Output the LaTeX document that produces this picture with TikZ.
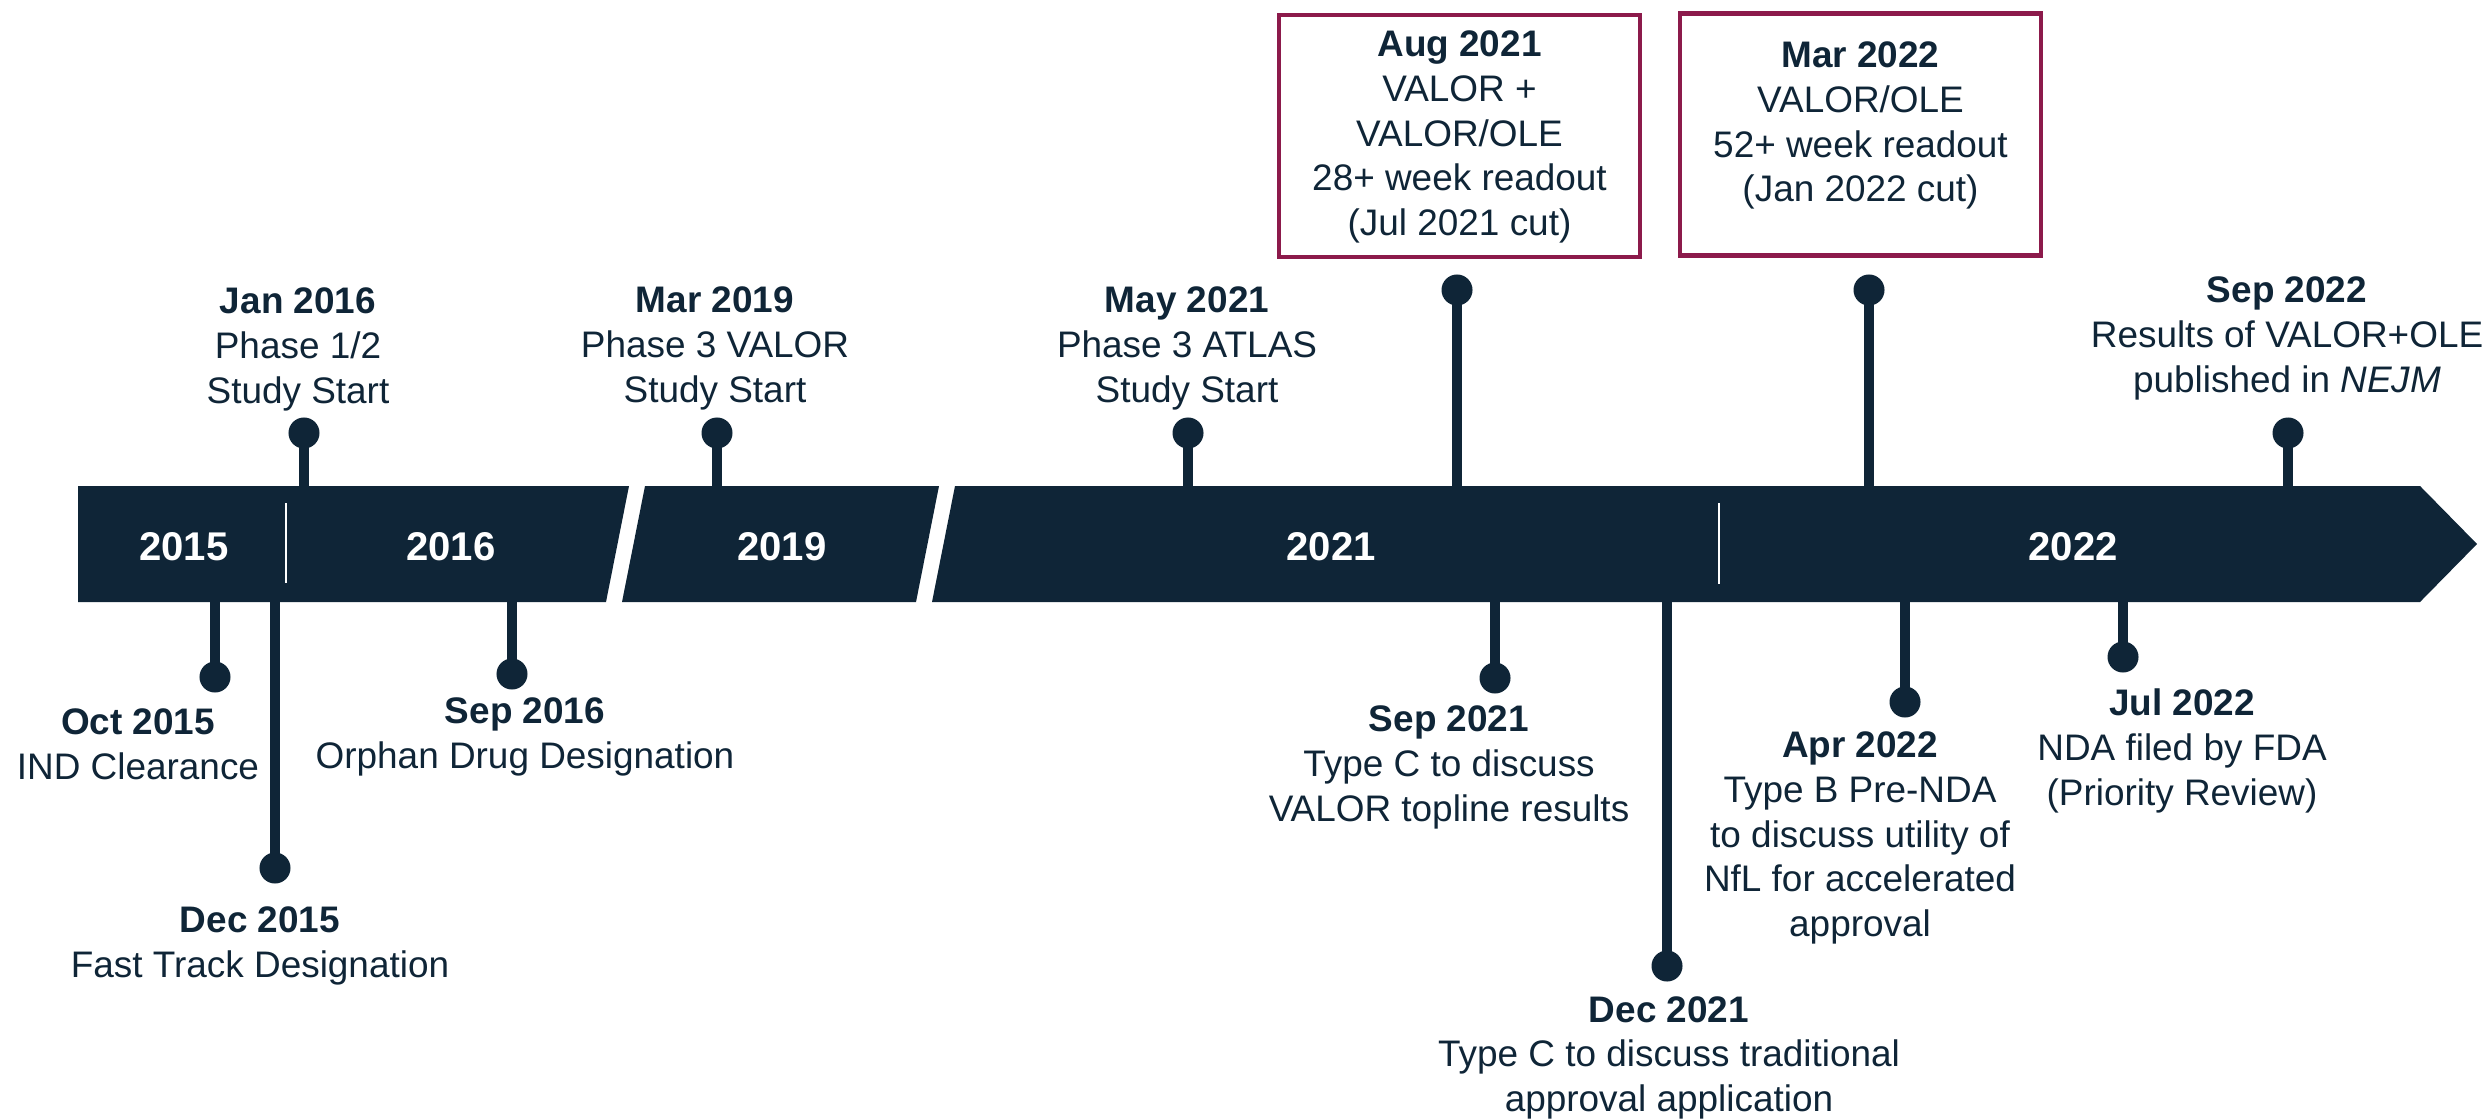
\documentclass[tikz,border=0pt]{standalone}
\usepackage{fontspec}
\setmainfont{Liberation Sans}
\definecolor{navy}{HTML}{0F2537}
\definecolor{maroon}{HTML}{8C1A4B}
\begin{document}
\begin{tikzpicture}[x=0.01cm,y=-0.01cm,
  lbl/.style={anchor=north,align=center,inner sep=0pt,text=navy,font=\fontsize{10.5}{12.7}\selectfont},
  yr/.style={anchor=base,inner sep=0pt,text=white,font=\fontsize{11.4}{13}\selectfont\bfseries},
  evdot/.style={circle,fill=navy,minimum size=0.31cm,inner sep=0pt},
  stemline/.style={draw=navy,line width=2.85pt},
  boxfr/.style={draw=maroon,line width=1.2pt,minimum width=3.61cm,minimum height=2.42cm,inner sep=0pt},
  divider/.style={draw=white,line width=0.7pt}]
\useasboundingbox (0,0) rectangle (2491,1118);

% event dots
\node[evdot] (d-jan16) at (304,433) {};
\node[evdot] (d-mar19) at (717,433) {};
\node[evdot] (d-may21) at (1188,433) {};
\node[evdot] (d-aug21) at (1457,290) {};
\node[evdot] (d-mar22) at (1869,290) {};
\node[evdot] (d-sep22) at (2288,433) {};
\node[evdot] (d-oct15) at (215,677) {};
\node[evdot] (d-dec15) at (275,868) {};
\node[evdot] (d-sep16) at (512,674) {};
\node[evdot] (d-sep21) at (1495,678) {};
\node[evdot] (d-dec21) at (1667,966) {};
\node[evdot] (d-apr22) at (1905,702) {};
\node[evdot] (d-jul22) at (2123,657) {};

% attach points on the bar
\coordinate (b-jan16) at (304,492);
\coordinate (b-mar19) at (717,492);
\coordinate (b-may21) at (1188,492);
\coordinate (b-aug21) at (1457,492);
\coordinate (b-mar22) at (1869,492);
\coordinate (b-sep22) at (2288,492);
\coordinate (b-oct15) at (215,596);
\coordinate (b-dec15) at (275,596);
\coordinate (b-sep16) at (512,596);
\coordinate (b-sep21) at (1495,596);
\coordinate (b-dec21) at (1667,596);
\coordinate (b-apr22) at (1905,596);
\coordinate (b-jul22) at (2123,596);

\foreach \e in {jan16,mar19,may21,aug21,mar22,sep22,oct15,dec15,sep16,sep21,dec21,apr22,jul22}
  \draw[stemline] (d-\e.center) -- (b-\e);

% timeline bar
\fill[navy] (78,486) -- (629,486) -- (606,602) -- (78,602) -- cycle;
\fill[navy] (645,486) -- (939,486) -- (916,602) -- (622,602) -- cycle;
\fill[navy] (955,486) -- (2420,486) -- (2477,544) -- (2420,602) -- (932,602) -- cycle;
\coordinate (v1t) at (286,503); \coordinate (v1b) at (286,583);
\coordinate (v2t) at (1719,503); \coordinate (v2b) at (1719,584);
\draw[divider] (v1t) -- (v1b);
\draw[divider] (v2t) -- (v2b);

\node[yr] (y2015) at (184,560) {2015};
\node[yr] (y2016) at (451,560) {2016};
\node[yr] (y2019) at (782,560) {2019};
\node[yr] (y2021) at (1331,560) {2021};
\node[yr] (y2022) at (2073,560) {2022};

% boxes
\node[boxfr] (box1) at (1459.5,136) {};
\node[boxfr] (box2) at (1860.5,134.5) {};

% labels above
\node[lbl] (t-jan16) at (298,287.5) {\textbf{Jan 2016}\\Phase 1/2\\Study Start};
\node[lbl] (t-mar19) at (715,286.5) {\textbf{Mar 2019}\\Phase 3 VALOR\\Study Start};
\node[lbl] (t-may21) at (1187,286.5) {\textbf{May 2021}\\Phase 3 ATLAS\\Study Start};
\node[lbl] (t-aug21) at (1459.5,30.5) {\textbf{Aug 2021}\\VALOR +\\VALOR/OLE\\28+ week readout\\(Jul 2021 cut)};
\node[lbl] (t-mar22) at (1860.5,41.5) {\textbf{Mar 2022}\\VALOR/OLE\\52+ week readout\\(Jan 2022 cut)};
\node[lbl] (t-sep22) at (2287,276.5) {\textbf{Sep 2022}\\Results of VALOR+OLE\\published in \textit{NEJM}};

% labels below
\node[lbl] (t-oct15) at (138,708.5) {\textbf{Oct 2015}\\IND Clearance};
\node[lbl] (t-dec15) at (260,906.5) {\textbf{Dec 2015}\\Fast Track Designation};
\node[lbl] (t-sep16) at (525,697.5) {\textbf{Sep 2016}\\Orphan Drug Designation};
\node[lbl] (t-sep21) at (1449,705.5) {\textbf{Sep 2021}\\Type C to discuss\\VALOR topline results};
\node[lbl] (t-dec21) at (1669,995.5) {\textbf{Dec 2021}\\Type C to discuss traditional\\approval application};
\node[lbl] (t-apr22) at (1860,731.5) {\textbf{Apr 2022}\\Type B Pre-NDA\\to discuss utility of\\NfL for accelerated\\approval};
\node[lbl] (t-jul22) at (2182,688.5) {\textbf{Jul 2022}\\NDA filed by FDA\\(Priority Review)};
\end{tikzpicture}
\end{document}
